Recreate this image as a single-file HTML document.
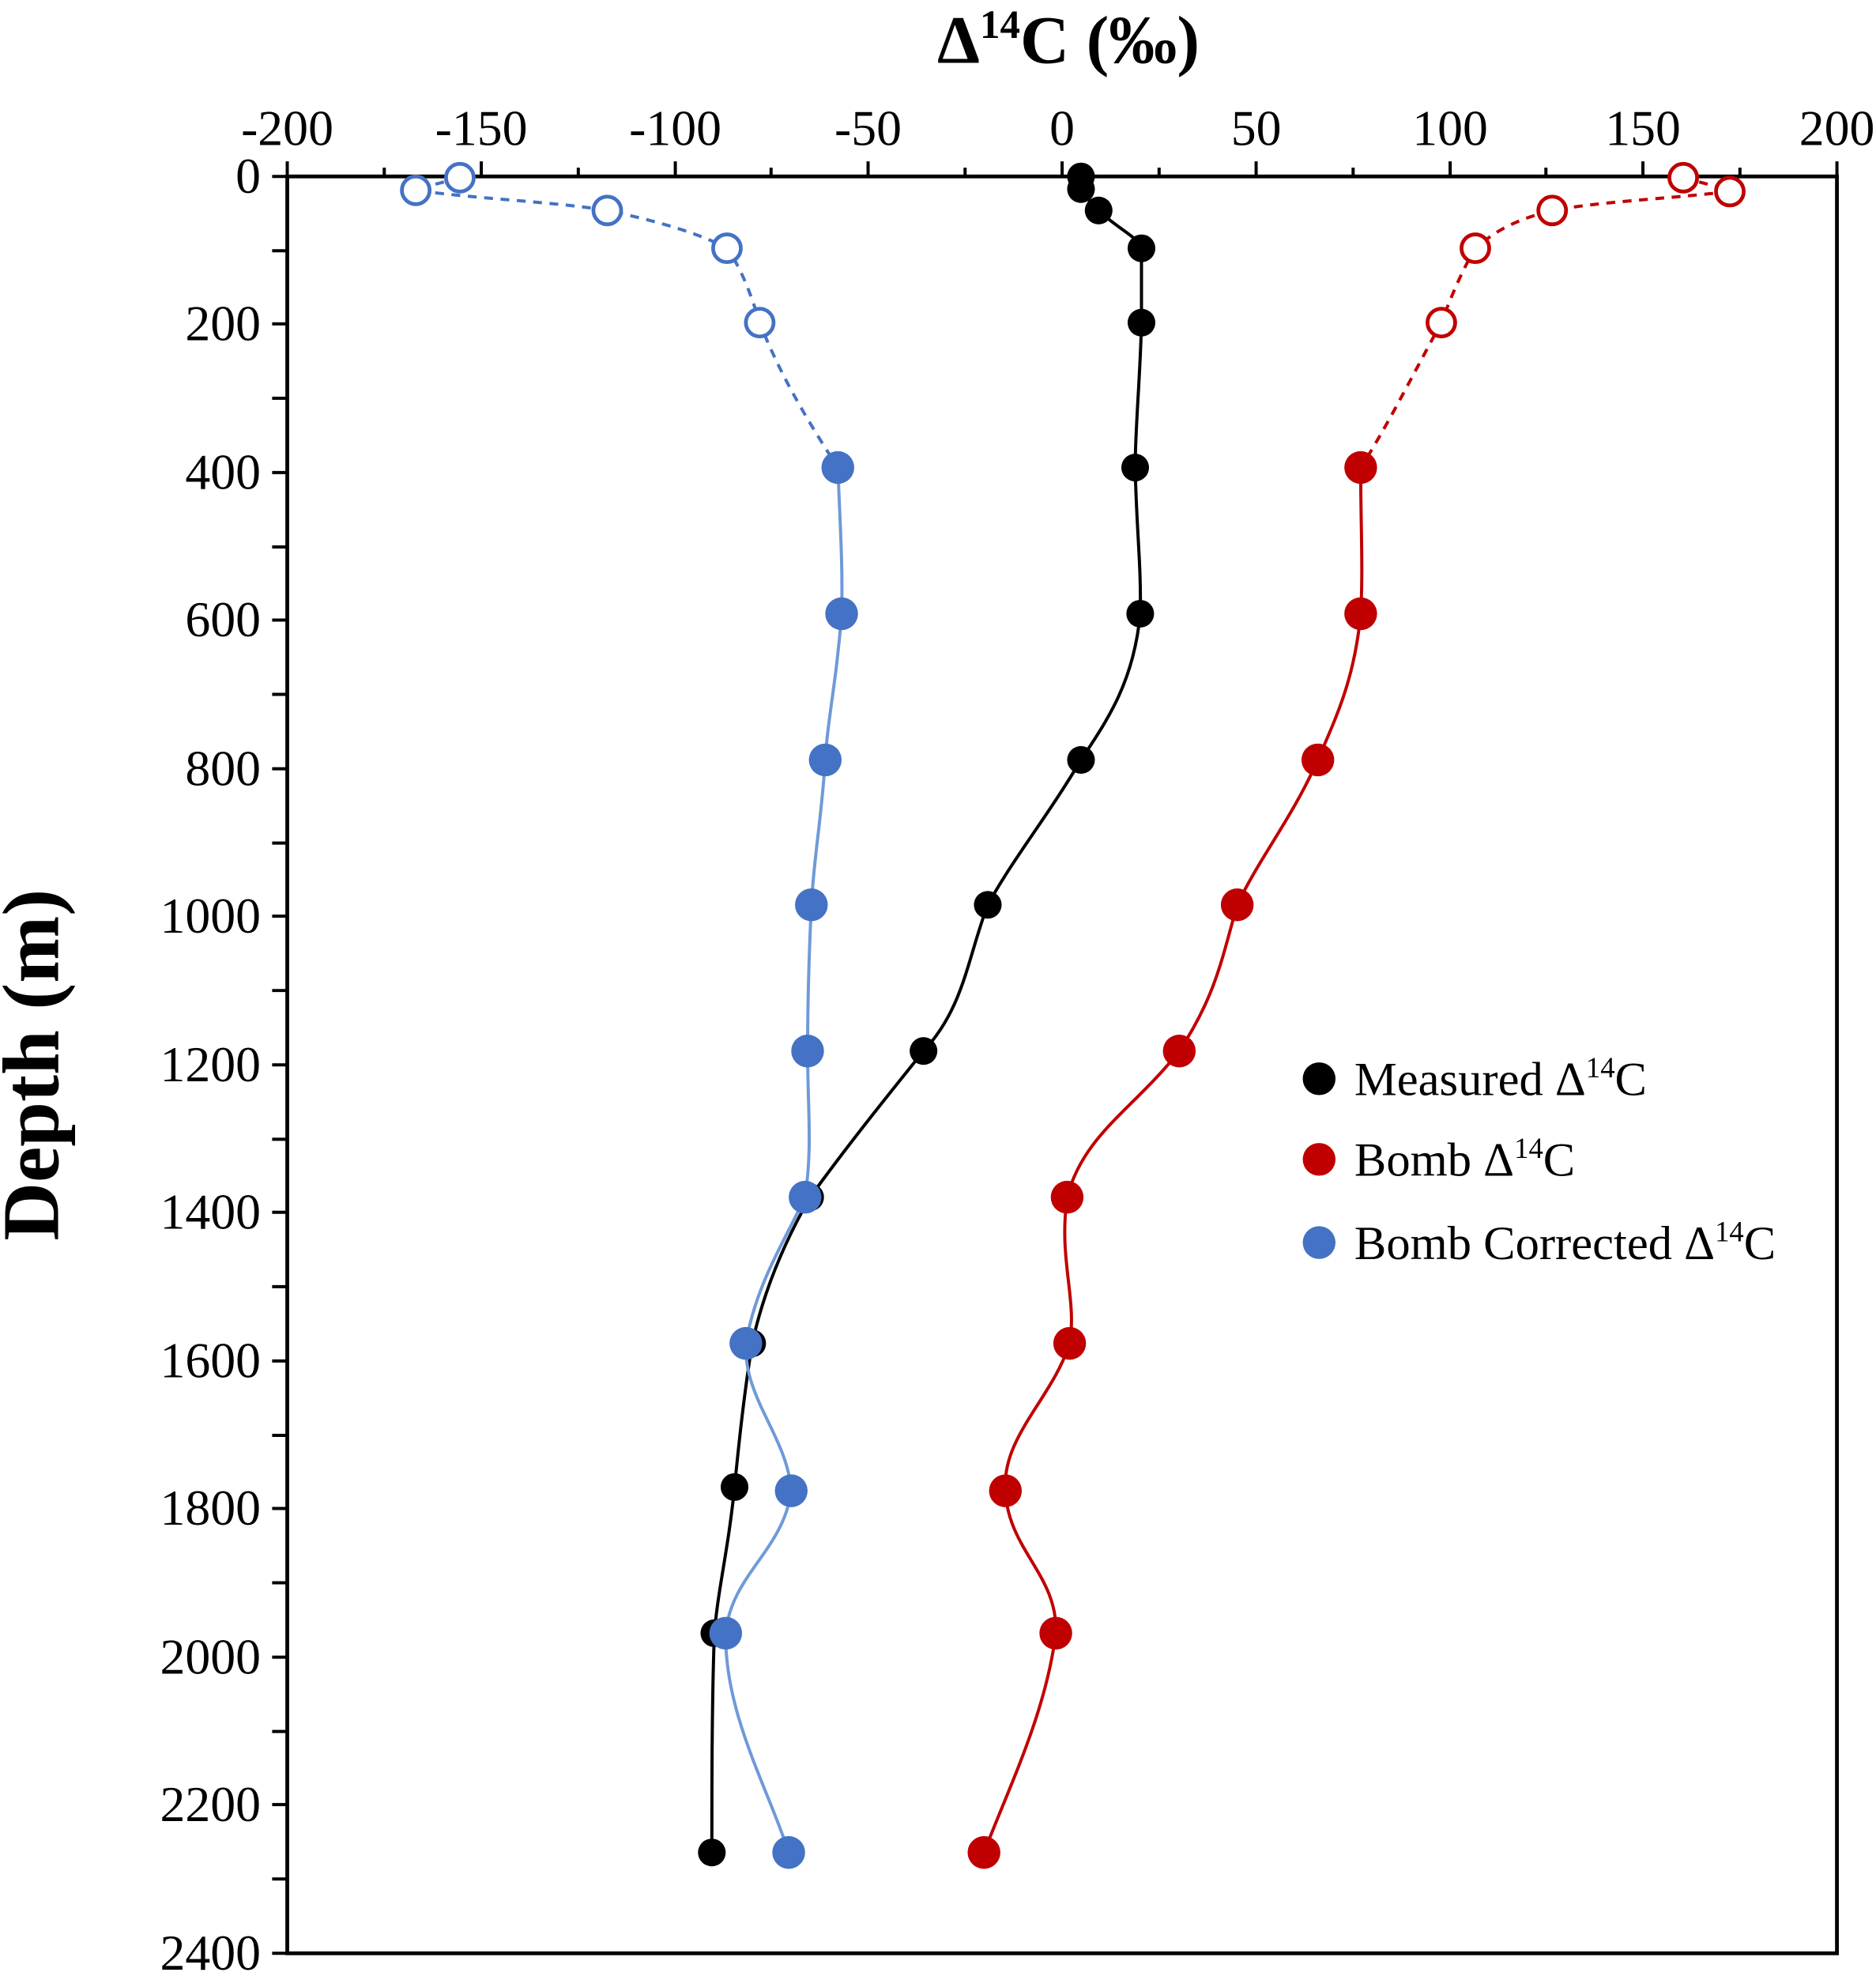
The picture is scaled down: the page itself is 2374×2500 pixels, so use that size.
<!DOCTYPE html>
<html><head><meta charset="utf-8"><style>html,body{margin:0;padding:0;background:#fff}svg{display:block}</style></head>
<body>
<svg width="2374" height="2500" viewBox="0 0 1489 1568" xmlns="http://www.w3.org/2000/svg" font-family="Liberation Serif, serif">
<rect width="1489" height="1568" fill="#fff"/>
<text x="848" y="50" font-size="54" font-weight="bold" text-anchor="middle">Δ<tspan font-size="32" dy="-20">14</tspan><tspan dy="20">C (‰)</tspan></text>
<text transform="translate(46,845) rotate(-90)" font-size="64" font-weight="bold" text-anchor="middle">Depth (m)</text>
<g font-size="40" text-anchor="middle">
<text x="228" y="115">-200</text><text x="382" y="115">-150</text><text x="536" y="115">-100</text><text x="689" y="115">-50</text><text x="843" y="115">0</text><text x="997" y="115">50</text><text x="1151" y="115">100</text><text x="1304" y="115">150</text><text x="1458" y="115">200</text>
</g>
<g font-size="40" text-anchor="end">
<text x="207" y="153">0</text><text x="207" y="270">200</text><text x="207" y="388">400</text><text x="207" y="505">600</text><text x="207" y="623">800</text><text x="207" y="740">1000</text><text x="207" y="858">1200</text><text x="207" y="975">1400</text><text x="207" y="1093">1600</text><text x="207" y="1210">1800</text><text x="207" y="1328">2000</text><text x="207" y="1445">2200</text><text x="207" y="1563">2400</text>
</g>
<rect x="228" y="140" width="1230" height="1410" fill="none" stroke="#000" stroke-width="3"/>
<g stroke="#000" stroke-width="2.5">
<path d="M228 140v-12M305 140v-7M382 140v-12M459 140v-7M536 140v-12M612 140v-7M689 140v-12M766 140v-7M843 140v-12M920 140v-7M997 140v-12M1074 140v-7M1151 140v-12M1227 140v-7M1304 140v-12M1381 140v-7M1458 140v-12"/>
<path d="M216 140h12M216 199h12M216 257h12M216 316h12M216 375h12M216 434h12M216 492h12M216 551h12M216 610h12M216 669h12M216 727h12M216 786h12M216 845h12M216 904h12M216 962h12M216 1021h12M216 1080h12M216 1139h12M216 1197h12M216 1256h12M216 1315h12M216 1374h12M216 1432h12M216 1491h12M216 1550h12"/>
</g>
<g fill="none">
<path stroke="#000" stroke-width="2.5" d="M858 140 C858 145 858 150 858 150 C862 156 866 161 872 167 C885 180 906 190 906 197 C906 220 906 240 906 256 C905 300 901 340 901 371 C902 420 906 450 905 487 C900 540 880 570 858 603 C830 650 805 680 784 718 C768 760 765 800 733 834 C700 875 672 910 643 950 C620 990 605 1030 597 1066 C590 1110 586 1150 583 1180 C578 1230 570 1260 567 1296 C565 1350 565 1420 565 1470"/>
<path stroke="#c00000" stroke-width="2.5" stroke-dasharray="7,6" d="M1336 141 C1350 145 1365 148 1373 152 C1320 158 1270 160 1232 167 C1200 175 1185 185 1171 197 C1160 215 1150 240 1144 256 C1120 300 1100 340 1080 371"/>
<path stroke="#c00000" stroke-width="2.5" d="M1080 371 C1080 420 1082 450 1080 487 C1075 540 1060 570 1046 603 C1025 650 1000 680 982 718 C970 760 965 790 936 834 C900 880 860 900 847 950 C840 1000 855 1030 849 1066 C835 1110 795 1140 798 1183 C800 1230 840 1250 838 1296 C830 1360 800 1420 781 1470"/>
<path stroke="#4472c4" stroke-width="2.5" stroke-dasharray="7,6" d="M365 141 C350 145 338 148 330 151 C380 158 440 160 482 167 C520 175 555 185 577 197 C590 215 598 240 603 256 C620 300 645 340 665 371"/>
<path stroke="#6f9ad8" stroke-width="2.5" d="M665 371 C667 420 669 450 668 487 C664 540 657 570 655 603 C652 650 646 680 644 718 C642 760 641 800 641 834 C641 880 645 910 639 950 C620 990 600 1020 592 1066 C590 1110 625 1140 628 1183 C622 1230 580 1250 576 1296 C575 1360 610 1420 626 1470"/>
</g>
<g fill="#000">
<circle cx="858" cy="140" r="11"/><circle cx="858" cy="150" r="11"/><circle cx="872" cy="167" r="11"/><circle cx="906" cy="197" r="11"/><circle cx="906" cy="256" r="11"/><circle cx="901" cy="371" r="11"/><circle cx="905" cy="487" r="11"/><circle cx="858" cy="603" r="11"/><circle cx="784" cy="718" r="11"/><circle cx="733" cy="834" r="11"/><circle cx="643" cy="950" r="11"/><circle cx="597" cy="1066" r="11"/><circle cx="583" cy="1180" r="11"/><circle cx="567" cy="1296" r="11"/><circle cx="565" cy="1470" r="11"/>
</g>
<g fill="#c00000">
<circle cx="1080" cy="371" r="13"/><circle cx="1080" cy="487" r="13"/><circle cx="1046" cy="603" r="13"/><circle cx="982" cy="718" r="13"/><circle cx="936" cy="834" r="13"/><circle cx="847" cy="950" r="13"/><circle cx="849" cy="1066" r="13"/><circle cx="798" cy="1183" r="13"/><circle cx="838" cy="1296" r="13"/><circle cx="781" cy="1470" r="13"/>
</g>
<g fill="#fff" stroke="#c00000" stroke-width="3">
<circle cx="1336" cy="141" r="11"/><circle cx="1373" cy="152" r="11"/><circle cx="1232" cy="167" r="11"/><circle cx="1171" cy="197" r="11"/><circle cx="1144" cy="256" r="11"/>
</g>
<g fill="#4472c4">
<circle cx="665" cy="371" r="13"/><circle cx="668" cy="487" r="13"/><circle cx="655" cy="603" r="13"/><circle cx="644" cy="718" r="13"/><circle cx="641" cy="834" r="13"/><circle cx="639" cy="950" r="13"/><circle cx="592" cy="1066" r="13"/><circle cx="628" cy="1183" r="13"/><circle cx="576" cy="1296" r="13"/><circle cx="626" cy="1470" r="13"/>
</g>
<g fill="#fff" stroke="#4472c4" stroke-width="3">
<circle cx="365" cy="141" r="11"/><circle cx="330" cy="151" r="11"/><circle cx="482" cy="167" r="11"/><circle cx="577" cy="197" r="11"/><circle cx="603" cy="256" r="11"/>
</g>
<circle cx="1047" cy="856" r="13" fill="#000"/>
<circle cx="1047" cy="920" r="13" fill="#c00000"/>
<circle cx="1047" cy="986" r="13" fill="#4472c4"/>
<g font-size="38">
<text x="1075" y="869">Measured Δ<tspan font-size="23" dy="-14">14</tspan><tspan dy="14">C</tspan></text>
<text x="1075" y="933">Bomb Δ<tspan font-size="23" dy="-14">14</tspan><tspan dy="14">C</tspan></text>
<text x="1075" y="999">Bomb Corrected Δ<tspan font-size="23" dy="-14">14</tspan><tspan dy="14">C</tspan></text>
</g>
</svg>
</body></html>
